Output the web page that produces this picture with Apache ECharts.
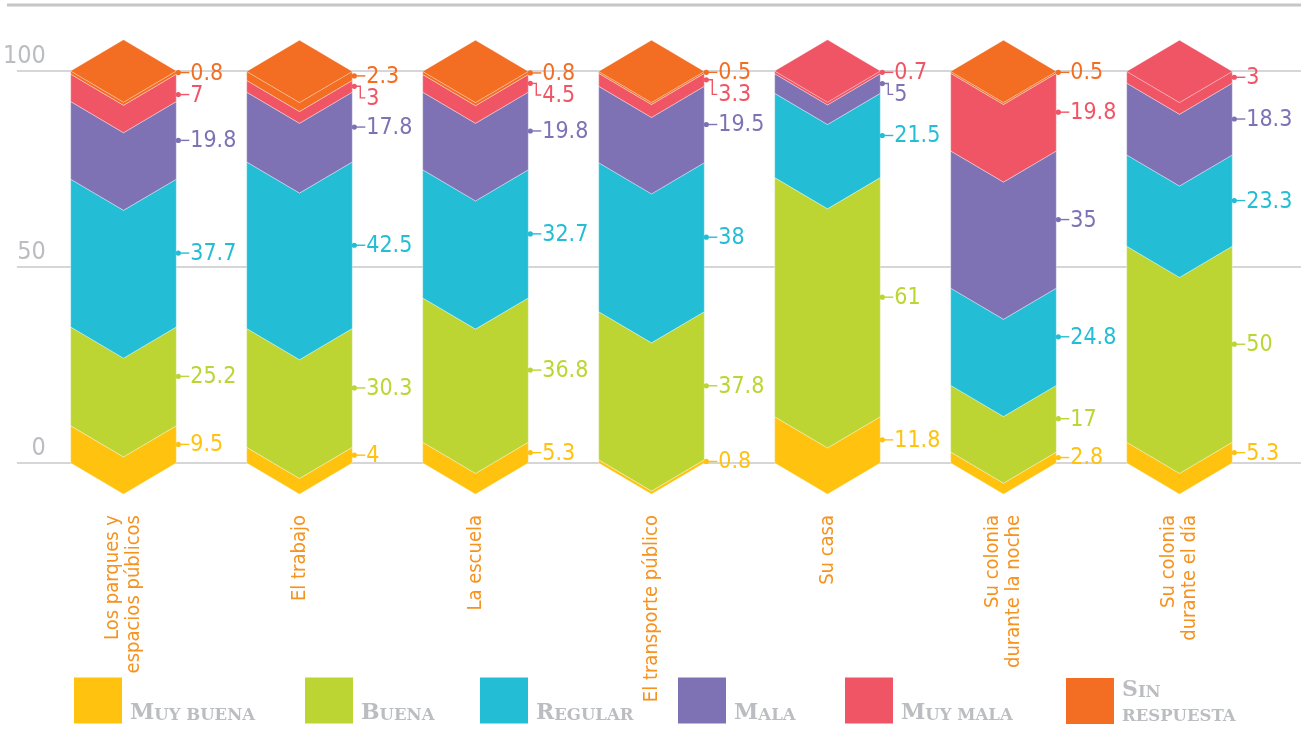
<!DOCTYPE html>
<html>
<head>
<meta charset="utf-8">
<script src="https://cdn.jsdelivr.net/npm/echarts@6/dist/echarts.min.js"></script>
<style>
html,body{margin:0;padding:0;background:#fff;}
#chart{width:1301px;height:732px;}
</style>
</head>
<body>
<div id="chart"></div>
<script>
// ---- data ----
const categories = ['Los parques y\nespacios públicos', 'El trabajo', 'La escuela', 'El transporte público', 'Su casa', 'Su colonia\ndurante la noche', 'Su colonia\ndurante el día'];
const responses = ['Muy buena', 'Buena', 'Regular', 'Mala', 'Muy mala', 'Sin respuesta'];
const muyBuena     = [9.5, 4, 5.3, 0.8, 11.8, 2.8, 5.3];
const buena        = [25.2, 30.3, 36.8, 37.8, 61, 17, 50];
const regular      = [37.7, 42.5, 32.7, 38, 21.5, 24.8, 23.3];
const mala         = [19.8, 17.8, 19.8, 19.5, 5, 35, 18.3];
const muyMala      = [7, 3, 4.5, 3.3, 0.7, 19.8, 3];
const sinRespuesta = [0.8, 2.3, 0.8, 0.5, 0, 0.5, 0];
const yTicks = [0, 50, 100];

// ---- styles ----
const seriesValues = [muyBuena, buena, regular, mala, muyMala, sinRespuesta];
const colors = ['#FEC20F', '#BCD532', '#23BED5', '#7E72B4', '#F05565', '#F36E22'];
const condensed = "'Liberation Sans Narrow', 'DejaVu Sans Condensed', 'Noto Sans', sans-serif";
const grey = '#BBBDC0';

function geom(api, i) {
  const band = api.size([1, 0])[0];
  const hw = band * 0.3;
  const d = hw * 0.59;
  const cx = api.coord([i, 0])[0];
  return { cx, hw, d, xL: cx - hw, xR: cx + hw };
}

function segRender(k) {
  return function (params, api) {
    const i = api.value(0), b = api.value(1), v = api.value(2);
    if (!(v > 0)) return null;
    const g = geom(api, i);
    const yB = api.coord([i, b])[1];
    const yT = api.coord([i, b + v])[1];
    return {
      type: 'polygon',
      shape: { points: [[g.xL, yT], [g.cx, yT + g.d], [g.xR, yT], [g.xR, yB], [g.cx, yB + g.d], [g.xL, yB]] },
      style: { fill: colors[k], stroke: 'rgba(255,255,255,0.45)', lineWidth: 0.8 }
    };
  };
}

const segSeries = responses.map((name, k) => {
  const data = categories.map((c, i) => {
    let base = 0;
    for (let j = 0; j < k; j++) base += seriesValues[j][i];
    return [i, base, seriesValues[k][i]];
  });
  return {
    type: 'custom', name, xAxisIndex: 1, yAxisIndex: 1,
    itemStyle: { color: colors[k] },
    encode: { x: 0, y: 2 },
    renderItem: segRender(k),
    data, z: 3
  };
});

// top face
const topData = categories.map((c, i) => {
  let total = 0, top = 0;
  for (let k = 0; k < seriesValues.length; k++) { total += seriesValues[k][i]; if (seriesValues[k][i] > 0) top = k; }
  return [i, total, top];
});
const topSeries = {
  type: 'custom', name: 'top', xAxisIndex: 1, yAxisIndex: 1, z: 4,
  encode: { x: 0, y: 1 },
  renderItem(params, api) {
    const i = api.value(0), t = api.value(1), k = api.value(2);
    const g = geom(api, i);
    const y = api.coord([i, t])[1];
    return {
      type: 'polygon',
      shape: { points: [[g.xL, y], [g.cx, y - g.d], [g.xR, y], [g.cx, y + g.d]] },
      style: { fill: colors[k], stroke: 'rgba(255,255,255,0.35)', lineWidth: 0.7 }
    };
  },
  data: topData
};

// value labels
const labelSeries = {
  type: 'custom', name: 'labels', xAxisIndex: 1, yAxisIndex: 1, z: 5,
  encode: { x: 0 },
  renderItem(params, api) {
    const i = api.value(0);
    const g = geom(api, i);
    const xR = g.xR;
    let cum = 0;
    const segs = [];
    for (let k = 0; k < seriesValues.length; k++) {
      const v = seriesValues[k][i];
      if (v > 0) segs.push({ k, v, lo: cum, hi: cum + v });
      cum += v;
    }
    const children = [];
    let prevY = -1e9;
    const gap = 22;
    for (let j = segs.length - 1; j >= 0; j--) {
      const s = segs[j];
      const mid = api.coord([i, (s.lo + s.hi) / 2])[1];
      let ty = mid, dotY = mid, elbow = false;
      if (ty < prevY + gap) {
        const shift = prevY + gap - ty;
        ty = prevY + gap;
        if (shift <= 8) dotY = ty; else elbow = true;
      }
      prevY = ty;
      const c = colors[s.k];
      children.push({ type: 'circle', shape: { cx: xR + 2, cy: dotY, r: 2.6 }, style: { fill: c } });
      const pts = elbow
        ? [[xR + 2, dotY], [xR + 8, dotY], [xR + 8, ty], [xR + 13, ty]]
        : [[xR + 2, dotY], [xR + 13, ty]];
      children.push({ type: 'polyline', shape: { points: pts }, style: { stroke: c, lineWidth: 1.4, fill: null } });
      children.push({
        type: 'text',
        style: { x: xR + 14, y: ty + 1, text: String(s.v), fill: c, font: '23px ' + condensed, textVerticalAlign: 'middle', textAlign: 'left' }
      });
    }
    return { type: 'group', children };
  },
  data: categories.map((c, i) => [i])
};

function smallCaps(name) {
  const words = name.split(' ');
  if (name === 'Sin respuesta') return '{a|S}{b|IN}\n{b|RESPUESTA}';
  const first = words[0];
  const rest = (first.slice(1) + (words.length > 1 ? ' ' + words.slice(1).join(' ') : '')).toUpperCase();
  return '{e| }\n{a|' + first[0] + '}{b|' + rest + '}';
}
const legendLefts = [74, 305, 480, 678, 845, 1066];
const legends = responses.map((r, k) => ({
  data: [r], left: legendLefts[k], top: 677, padding: 0,
  icon: 'rect', itemWidth: 48, itemHeight: 46, itemGap: 0,
  selectedMode: true,
  formatter: smallCaps,
  textStyle: {
    color: grey, lineHeight: 23, padding: [0, 0, 0, 3],
    rich: {
      e: { fontSize: 10, lineHeight: 23 },
      a: { fontFamily: "'DejaVu Serif', serif", fontWeight: 'bold', fontSize: 22, color: grey, lineHeight: 24, verticalAlign: 'bottom' },
      b: { fontFamily: "'DejaVu Serif', serif", fontWeight: 'bold', fontSize: 16.5, color: grey, lineHeight: 24, verticalAlign: 'bottom' }
    }
  }
}));

const option = {
  animation: false,
  backgroundColor: '#fff',
  graphic: [{ type: 'rect', shape: { x: 7, y: 3.5, width: 1294, height: 3 }, style: { fill: '#C5C6C8' }, silent: true }],
  legend: legends,
  grid: [
    { left: 7, right: 0, top: 71, bottom: 269 },
    { left: 35.5, right: 33.5, top: 71, bottom: 269 }
  ],
  xAxis: [
    { gridIndex: 0, type: 'value', show: false, min: 0, max: 1 },
    {
      gridIndex: 1, type: 'category', data: categories,
      axisLine: { show: false }, axisTick: { show: false },
      axisLabel: { rotate: 90, margin: 52, color: '#F6921E', fontSize: 20, lineHeight: 21, fontFamily: condensed, interval: 0 }
    }
  ],
  yAxis: [
    {
      gridIndex: 0, type: 'value', min: yTicks[0], max: yTicks[yTicks.length - 1], interval: yTicks[1] - yTicks[0],
      axisLine: { show: false }, axisTick: { show: false },
      splitLine: { lineStyle: { color: '#C8C9CB', width: 1.5 } },
      axisLabel: { inside: true, margin: 29, align: 'right', verticalAlign: 'bottom', color: grey, fontSize: 25, fontFamily: condensed, lineHeight: 30 }
    },
    { gridIndex: 1, type: 'value', min: 0, max: 100, show: false }
  ],
  series: [...segSeries, topSeries, labelSeries]
};

const chart = echarts.init(document.getElementById('chart'), null, { renderer: 'canvas' });
chart.setOption(option);
</script>
</body>
</html>
